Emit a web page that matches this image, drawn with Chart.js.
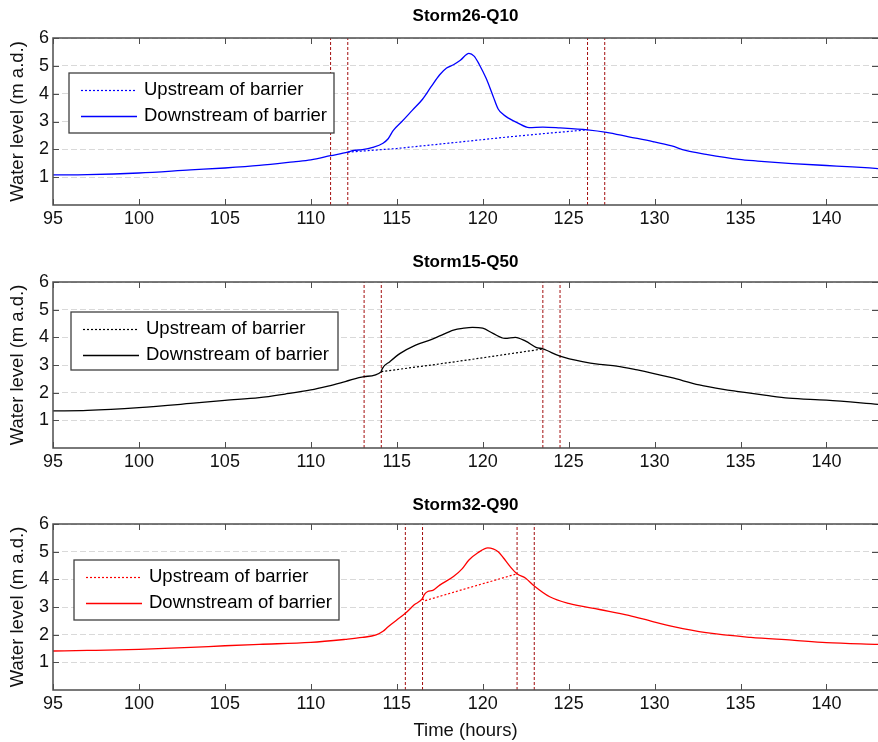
<!DOCTYPE html>
<html>
<head>
<meta charset="utf-8">
<title>Water level at the barrier</title>
<script src="https://cdn.jsdelivr.net/npm/chart.js@4.4.0/dist/chart.umd.min.js"></script>
<style>
  body { margin: 0; background: #fff; }
  .panel { position: absolute; left: 0; width: 878px; }
</style>
</head>
<body>
<div class="panel" style="top:0;height:240px"><canvas id="q10"></canvas></div>
<div class="panel" style="top:244px;height:240px"><canvas id="q50"></canvas></div>
<div class="panel" style="top:486px;height:256px"><canvas id="q90"></canvas></div>
<script>
const xTicks = [95, 100, 105, 110, 115, 120, 125, 130, 135, 140];
const yTicks = [1, 2, 3, 4, 5, 6];
const xMin = 95, xMax = 143, yMin = 0, yMax = 6;
const seriesNames = ["Upstream of barrier", "Downstream of barrier"];

// Storm26-Q10
const q10Hours = [95, 97, 100, 103, 105, 107, 109, 110, 111.15, 112.15, 112.5, 113, 113.6, 114.2, 114.5, 114.8, 115.3, 115.9, 116.5, 117, 117.5, 117.9, 118.3, 118.7, 119.2, 119.5, 119.8, 120.2, 120.6, 120.9, 121.2, 121.5, 122, 122.7, 123.5, 124.5, 126.1, 127.2, 128.5, 129.9, 131, 131.8, 133, 134.9, 136, 138, 140, 141.5, 143];
const q10Down = [1.08, 1.09, 1.15, 1.26, 1.33, 1.42, 1.55, 1.62, 1.77, 1.90, 1.96, 1.99, 2.07, 2.22, 2.38, 2.68, 3.0, 3.4, 3.8, 4.25, 4.68, 4.92, 5.04, 5.2, 5.45, 5.35, 5.05, 4.55, 3.92, 3.45, 3.25, 3.12, 2.96, 2.78, 2.8, 2.77, 2.70, 2.61, 2.45, 2.28, 2.12, 1.96, 1.82, 1.64, 1.58, 1.49, 1.42, 1.37, 1.31];
const q10UpHours = [112.15, 115, 118, 121.4, 124, 126.1];
const q10Up = [1.90, 2.03, 2.22, 2.44, 2.59, 2.70];
const q10Closure = [111.15, 112.15, 126.1, 127.1];

// Storm15-Q50
const q50Hours = [95, 97, 100, 103, 105, 107, 108.5, 110, 111, 112, 113.1, 114.1, 114.15, 114.6, 115.2, 116.1, 117, 117.5, 118.3, 118.9, 119.4, 120.0, 120.6, 121.3, 121.9, 122.5, 123.1, 123.5, 124.5, 125.8, 126.8, 127.8, 129, 129.9, 131, 132.6, 134, 134.9, 136.5, 137.8, 140, 143];
const q50Down = [1.34, 1.36, 1.46, 1.61, 1.72, 1.82, 1.95, 2.1, 2.24, 2.4, 2.58, 2.76, 2.86, 3.12, 3.42, 3.72, 3.92, 4.05, 4.26, 4.33, 4.36, 4.33, 4.14, 3.96, 4.0, 3.86, 3.64, 3.58, 3.32, 3.12, 3.02, 2.96, 2.82, 2.70, 2.54, 2.28, 2.12, 2.04, 1.9, 1.8, 1.73, 1.58];
const q50UpHours = [114.1, 117.5, 120, 123.5];
const q50Up = [2.76, 3.04, 3.26, 3.58];
const q50Closure = [113.1, 114.1, 123.5, 124.5];

// Storm32-Q90
const q90Hours = [95, 97, 100, 103, 105, 107, 110, 112, 113, 113.8, 114.2, 114.5, 115, 115.5, 116, 116.5, 116.6, 116.8, 117.1, 117.5, 118.3, 118.8, 119.2, 119.7, 120.3, 120.9, 121.2, 121.6, 122, 122.5, 123, 123.9, 125, 126.8, 128.5, 129.9, 131.1, 133, 135.6, 138, 140, 143];
const q90Down = [1.41, 1.43, 1.47, 1.54, 1.6, 1.65, 1.72, 1.83, 1.9, 1.99, 2.12, 2.29, 2.53, 2.77, 3.07, 3.31, 3.45, 3.56, 3.6, 3.79, 4.1, 4.38, 4.7, 4.95, 5.14, 5.0, 4.78, 4.46, 4.2, 4.04, 3.76, 3.37, 3.13, 2.91, 2.7, 2.47, 2.29, 2.07, 1.9, 1.8, 1.71, 1.65];
const q90UpHours = [116.5, 116.6, 119, 122];
const q90Up = [3.31, 3.22, 3.66, 4.2];
const q90Closure = [115.5, 116.5, 122.0, 123.0];

Chart.defaults.font.family = "'Liberation Sans', Arial, sans-serif";
Chart.defaults.color = "#111";

const pts = (xs, ys) => xs.map((x, i) => ({ x, y: ys[i] }));

// box, inward ticks and in-plot legend, MATLAB style
const framePlugin = {
  id: "frame",
  afterDatasetsDraw(chart, args, opts) {
    const { ctx, chartArea: a, scales: { x, y } } = chart;
    ctx.save();
    ctx.strokeStyle = "#4d4d4d";
    ctx.lineWidth = 1;
    ctx.beginPath();
    x.ticks.forEach(t => {
      const px = Math.round(x.getPixelForValue(t.value)) + 0.5;
      ctx.moveTo(px, a.bottom); ctx.lineTo(px, a.bottom - 6);
      ctx.moveTo(px, a.top); ctx.lineTo(px, a.top + 6);
    });
    y.ticks.forEach(t => {
      const py = Math.round(y.getPixelForValue(t.value)) + 0.5;
      ctx.moveTo(a.left, py); ctx.lineTo(a.left + 6, py);
      ctx.moveTo(a.right, py); ctx.lineTo(a.right - 6, py);
    });
    ctx.stroke();
    ctx.lineWidth = 1.5;
    ctx.beginPath();
    ctx.moveTo(a.right, a.top); ctx.lineTo(a.left, a.top);
    ctx.lineTo(a.left, a.bottom); ctx.lineTo(a.right, a.bottom);
    ctx.stroke();

    // legend
    const b = opts.box;
    const bx = a.left + b.dx, by = a.top + b.dy;
    ctx.fillStyle = "#fff";
    ctx.fillRect(bx, by, b.w, b.h);
    ctx.strokeStyle = "#404040";
    ctx.lineWidth = 1.3;
    ctx.strokeRect(bx, by, b.w, b.h);
    ctx.font = "18.5px 'Liberation Sans', Arial, sans-serif";
    ctx.textBaseline = "middle";
    [0, 1].forEach(i => {
      const ds = chart.data.datasets[i];
      const ry = by + (i === 0 ? 17 : 43);
      ctx.strokeStyle = ds.borderColor;
      ctx.lineWidth = ds.borderWidth;
      ctx.setLineDash(ds.borderDash || []);
      ctx.beginPath();
      ctx.moveTo(bx + 12, ry + 0.5); ctx.lineTo(bx + 68, ry + 0.5);
      ctx.stroke();
      ctx.setLineDash([]);
      ctx.fillStyle = "#000";
      ctx.fillText(ds.label, bx + 75, ry);
    });
    ctx.restore();
  }
};

function makeChart(id, cfg) {
  const datasets = [
    {
      label: seriesNames[0],
      data: pts(cfg.upHours, cfg.up),
      borderColor: cfg.color,
      borderWidth: 1.2,
      borderDash: [2, 2],
      pointRadius: 0,
      tension: 0
    },
    {
      label: seriesNames[1],
      data: pts(cfg.hours, cfg.down),
      borderColor: cfg.color,
      borderWidth: 1.3,
      pointRadius: 0,
      cubicInterpolationMode: "monotone"
    }
  ];
  cfg.closure.forEach(t => {
    datasets.push({
      label: "closure",
      data: [{ x: t, y: yMin }, { x: t, y: yMax }],
      borderColor: "#a30d0d",
      borderWidth: 1,
      borderDash: [3, 2],
      pointRadius: 0
    });
  });

  return new Chart(document.getElementById(id), {
    type: "line",
    data: { datasets },
    options: {
      responsive: true,
      maintainAspectRatio: false,
      animation: false,
      layout: { padding: 0 },
      plugins: {
        legend: { display: false },
        tooltip: { enabled: false },
        title: {
          display: true,
          text: cfg.title,
          fullSize: false,
          color: "#000",
          font: { size: 17, weight: "bold" },
          padding: { top: cfg.titleTop, bottom: 38 - cfg.titleTop - 20.4 }
        },
        frame: { box: cfg.box }
      },
      scales: {
        x: {
          type: "linear",
          min: xMin,
          max: xMax,
          afterBuildTicks: s => { s.ticks = xTicks.map(v => ({ value: v })); },
          afterFit: s => { s.height = cfg.xHeight; },
          grid: { display: false, drawTicks: false },
          border: { display: false },
          ticks: { font: { size: 18 }, padding: 3, color: "#111", maxRotation: 0 },
          title: {
            display: !!cfg.xTitle,
            text: cfg.xTitle || "",
            font: { size: 18.5 },
            color: "#111",
            padding: { top: 0, bottom: 0 }
          }
        },
        y: {
          min: yMin,
          max: yMax,
          afterBuildTicks: s => { s.ticks = yTicks.map(v => ({ value: v })); },
          afterFit: s => { s.width = 53; },
          grid: { color: "#d9d9d9", lineWidth: 1, drawTicks: false },
          border: { display: false, dash: [6, 3] },
          ticks: { font: { size: 18 }, padding: 4, color: "#111" },
          title: {
            display: true,
            text: "Water level (m a.d.)",
            font: { size: 18.5 },
            color: "#111",
            padding: { top: 7, bottom: 0 }
          }
        }
      }
    },
    plugins: [framePlugin]
  });
}

makeChart("q10", {
  title: "Storm26-Q10", color: "#0000ff",
  hours: q10Hours, down: q10Down, upHours: q10UpHours, up: q10Up, closure: q10Closure,
  titleTop: 6, xHeight: 35, box: { dx: 16, dy: 35, w: 265, h: 60 }
});
makeChart("q50", {
  title: "Storm15-Q50", color: "#000000",
  hours: q50Hours, down: q50Down, upHours: q50UpHours, up: q50Up, closure: q50Closure,
  titleTop: 8, xHeight: 36, box: { dx: 18, dy: 30, w: 267, h: 58 }
});
makeChart("q90", {
  title: "Storm32-Q90", color: "#ff0000",
  hours: q90Hours, down: q90Down, upHours: q90UpHours, up: q90Up, closure: q90Closure,
  titleTop: 9, xHeight: 52, xTitle: "Time (hours)", box: { dx: 21, dy: 36, w: 265, h: 60 }
});
</script>
</body>
</html>
